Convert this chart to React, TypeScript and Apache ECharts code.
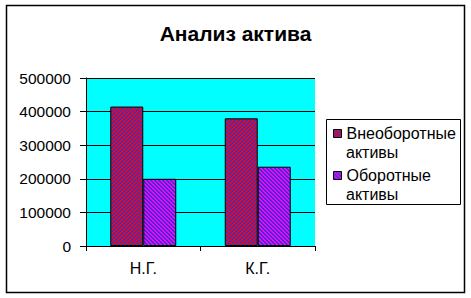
import React, { useEffect, useRef } from "react";
import * as echarts from "echarts";

const categories = ["Н.Г.", "К.Г."];
const seriesNames = ["Внеоборотные активы", "Оборотные активы"];
const nonCurrent = [415000, 380000];
const current = [200000, 236000];
const yTicks = { min: 0, max: 500000, interval: 100000 };

function makePattern(c1: string, c2: string, dir: number) {
  const cv = document.createElement("canvas");
  cv.width = 4;
  cv.height = 4;
  const ctx = cv.getContext("2d")!;
  for (let x = 0; x < 4; x++) {
    for (let y = 0; y < 4; y++) {
      const k = dir > 0 ? (x + y) % 4 : (((x - y) % 4) + 4) % 4;
      ctx.fillStyle = k < 2 ? c1 : c2;
      ctx.fillRect(x, y, 1, 1);
    }
  }
  return { image: cv, repeat: "repeat" } as any;
}

export default function App() {
  const ref = useRef<HTMLDivElement>(null);
  useEffect(() => {
    document.body.style.margin = "0";
    const chart = echarts.init(ref.current!, undefined, { renderer: "svg" });
    const font = "Liberation Sans, Arial, sans-serif";
    const p1 = makePattern("#FF0000", "#3333CC", 1);
    const p2 = makePattern("#FF00FF", "#3333CC", -1);
    chart.setOption({
      animation: false,
      backgroundColor: "#ffffff",
      title: {
        text: "Анализ актива",
        left: "center",
        top: 18,
        textStyle: { fontFamily: font, fontSize: 21, fontWeight: "bold", color: "#000" },
      },
      grid: {
        left: 86,
        right: 156,
        top: 78,
        bottom: 52,
        show: true,
        backgroundColor: "#00FFFF",
        borderWidth: 0,
      },
      xAxis: {
        type: "category",
        data: categories,
        axisLine: { lineStyle: { color: "#000", width: 1 } },
        axisTick: { show: true, length: 5, lineStyle: { color: "#000" } },
        axisLabel: { fontFamily: font, fontSize: 16, color: "#000", margin: 14 },
      },
      yAxis: {
        type: "value",
        min: yTicks.min,
        max: yTicks.max,
        interval: yTicks.interval,
        axisLine: { show: true, lineStyle: { color: "#000", width: 1 } },
        axisTick: { show: true, length: 6, lineStyle: { color: "#000" } },
        splitLine: { lineStyle: { color: "#000", width: 1 } },
        axisLabel: {
          fontFamily: font,
          fontSize: 15.5,
          color: "#000",
          margin: 15,
          formatter: (v: number) => String(v),
        },
      },
      legend: {
        orient: "vertical",
        left: 333,
        top: 124,
        padding: 0,
        itemWidth: 8,
        itemHeight: 8,
        itemGap: 23,
        icon: "rect",
        formatter: (n: string) => n.split(" ")[0],
        textStyle: { fontFamily: font, fontSize: 16, color: "#000", lineHeight: 19 },
        itemStyle: { borderColor: "#000", borderWidth: 1 },
        data: seriesNames,
      },
      graphic: [
        {
          type: "rect",
          shape: { x: 6.5, y: 5.5, width: 458, height: 287 },
          style: { fill: "none", stroke: "#000", lineWidth: 1.5 },
          silent: true,
        },
        {
          type: "rect",
          shape: { x: 326.5, y: 119.5, width: 134, height: 85 },
          style: { fill: "none", stroke: "#000", lineWidth: 1 },
          silent: true,
        },
        {
          type: "text",
          x: 346,
          y: 152,
          style: { text: "активы", font: `16px ${font}`, fill: "#000", verticalAlign: "middle" },
        },
        {
          type: "text",
          x: 346,
          y: 194,
          style: { text: "активы", font: `16px ${font}`, fill: "#000", verticalAlign: "middle" },
        },
      ],
      series: [
        {
          name: seriesNames[0],
          type: "bar",
          data: nonCurrent,
          barWidth: 33,
          barGap: "0%",
          itemStyle: { color: p1, borderColor: "#000", borderWidth: 1 },
        },
        {
          name: seriesNames[1],
          type: "bar",
          data: current,
          barWidth: 33,
          barGap: "0%",
          itemStyle: { color: p2, borderColor: "#000", borderWidth: 1 },
        },
      ],
    });
    return () => chart.dispose();
  }, []);
  return <div ref={ref} style={{ width: 471, height: 298 }} />;
}
